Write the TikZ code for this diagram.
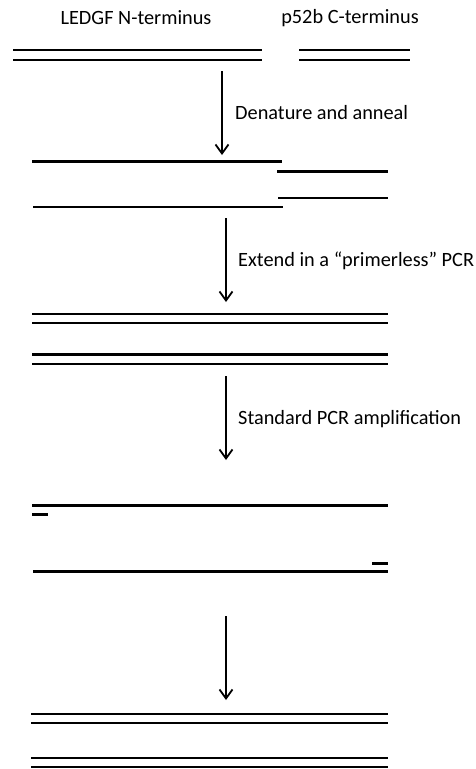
\documentclass[tikz,border=0pt]{standalone}
\usepackage{fontspec}
\setmainfont{Carlito}
\usetikzlibrary{arrows.meta}
\begin{document}
\begin{tikzpicture}[x=1pt,y=-1pt,
  strand/.style={line width=2.2pt},
  steparrow/.style={line width=1.8pt,-{Straight Barb[length=9pt,width=13pt,line width=1.8pt]}},
  lbl/.style={font=\fontsize{20.3}{22}\selectfont,inner sep=0pt},
  steplbl/.style={lbl,anchor=west}]
\useasboundingbox (0,0) rectangle (475,769);
% titles
\node[lbl] (tL) at (136,18) {LEDGF N-terminus};
\node[lbl] (tP) at (350,18) {p52b C-terminus};
% group 1
\coordinate (a1) at (13,50); \coordinate (a2) at (262,50);
\coordinate (a3) at (13,60); \coordinate (a4) at (262,60);
\coordinate (b1) at (299,50); \coordinate (b2) at (410,50);
\coordinate (b3) at (299,60); \coordinate (b4) at (410,60);
\draw[strand] (a1) -- (a2); \draw[strand] (a3) -- (a4);
\draw[strand] (b1) -- (b2); \draw[strand] (b3) -- (b4);
% arrow 1
\coordinate (s1) at (222,71); \coordinate (e1) at (222,155);
\draw[steparrow] (s1) -- (e1);
\node[steplbl] (l1) at (235,113) {Denature and anneal};
% group 2
\coordinate (c1) at (32,161.5); \coordinate (c2) at (282,161.5);
\coordinate (c3) at (277,171.5); \coordinate (c4) at (388,171.5);
\coordinate (c5) at (278,198); \coordinate (c6) at (388,198);
\coordinate (c7) at (33,207); \coordinate (c8) at (283,207);
\draw[strand] (c1) -- (c2); \draw[strand] (c3) -- (c4);
\draw[strand] (c5) -- (c6); \draw[strand] (c7) -- (c8);
% arrow 2
\coordinate (s2) at (226,218); \coordinate (e2) at (226,302);
\draw[steparrow] (s2) -- (e2);
\node[steplbl] (l2) at (238,261) {Extend in a “primerless” PCR};
% group 3
\coordinate (d1) at (32,314); \coordinate (d2) at (388,314);
\coordinate (d3) at (32,323); \coordinate (d4) at (388,323);
\coordinate (d5) at (32,354.5); \coordinate (d6) at (388,354.5);
\coordinate (d7) at (32,364); \coordinate (d8) at (388,364);
\draw[strand] (d1) -- (d2); \draw[strand] (d3) -- (d4);
\draw[strand] (d5) -- (d6); \draw[strand] (d7) -- (d8);
% arrow 3
\coordinate (s3) at (226,376); \coordinate (e3) at (226,460);
\draw[steparrow] (s3) -- (e3);
\node[steplbl] (l3) at (238,419) {Standard PCR amplification};
% group 4
\coordinate (f1) at (32,505.5); \coordinate (f2) at (388,505.5);
\coordinate (f3) at (32,514.5); \coordinate (f4) at (48,514.5);
\coordinate (f5) at (372,563.5); \coordinate (f6) at (388,563.5);
\coordinate (f7) at (33,571.5); \coordinate (f8) at (388,571.5);
\draw[strand] (f1) -- (f2); \draw[strand] (f3) -- (f4);
\draw[strand] (f5) -- (f6); \draw[strand] (f7) -- (f8);
% arrow 4
\coordinate (s4) at (226,616); \coordinate (e4) at (226,700);
\draw[steparrow] (s4) -- (e4);
% group 5
\coordinate (g1) at (31,714); \coordinate (g2) at (388,714);
\coordinate (g3) at (31,723); \coordinate (g4) at (388,723);
\coordinate (g5) at (31,758); \coordinate (g6) at (388,758);
\coordinate (g7) at (31,767); \coordinate (g8) at (388,767);
\draw[strand] (g1) -- (g2); \draw[strand] (g3) -- (g4);
\draw[strand] (g5) -- (g6); \draw[strand] (g7) -- (g8);
\end{tikzpicture}
\end{document}
